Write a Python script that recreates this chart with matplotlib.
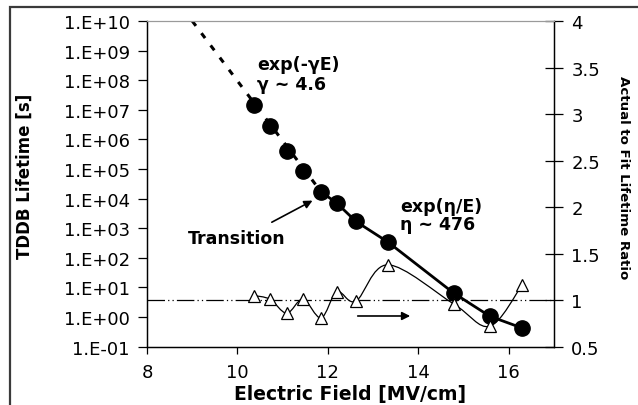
import numpy as np
import matplotlib.pyplot as plt
from matplotlib.path import Path
from matplotlib.patches import PathPatch, Rectangle

plt.rcParams['font.family'] = ['DejaVu Sans']

# measured lifetimes (filled circles)
field = [10.36, 10.72, 11.09, 11.45, 11.85, 12.20, 12.62, 13.33, 14.78, 15.58, 16.29]
lifetime = [1.45e7, 2.8e6, 4.1e5, 8.6e4, 1.7e4, 7.0e3, 1.7e3, 3.4e2, 6.5, 1.07, 0.43]

# actual-to-fit ratio (open triangles)
ratio_field = [10.36, 10.72, 11.09, 11.45, 11.85, 12.20, 12.62, 13.33, 14.78, 15.58, 16.29]
ratio = [1.05, 1.01, 0.86, 1.01, 0.81, 1.09, 0.99, 1.38, 0.96, 0.72, 1.16]

# exp(-gamma E) fit segment, low-field extrapolation
fit_field = [9.0, 11.85]
fit_lifetime = [1e10, 1.7e4]

left_ticks = [1e-1, 1e0, 1e1, 1e2, 1e3, 1e4, 1e5, 1e6, 1e7, 1e8, 1e9, 1e10]
left_labels = ['1.E-01', '1.E+00', '1.E+01', '1.E+02', '1.E+03', '1.E+04',
               '1.E+05', '1.E+06', '1.E+07', '1.E+08', '1.E+09', '1.E+10']
right_ticks = [0.5, 1, 1.5, 2, 2.5, 3, 3.5, 4]
right_labels = ['0.5', '1', '1.5', '2', '2.5', '3', '3.5', '4']
x_ticks = [8, 10, 12, 14, 16]

fig = plt.figure(figsize=(6.38, 4.06), dpi=100)
ax = fig.add_axes([147 / 638, 1 - 347.7 / 406, 407 / 638, 325.7 / 406])
ax2 = ax.twinx()

# outer border (only left and top edges fall inside the image)
fig.add_artist(Rectangle((9.5 / 638, -0.5), 2, 0.5 + (1 - 7.5 / 406),
                         transform=fig.transFigure, fill=False,
                         edgecolor='#3a3a3a', linewidth=1.6))

ax.set_yscale('log')
ax.set_xlim(8, 17)
ax.set_ylim(1e-1, 1e10)
ax.set_yticks(left_ticks)
ax.set_yticklabels(left_labels)
ax.yaxis.set_minor_locator(plt.NullLocator())
ax.set_xticks(x_ticks)
ax.tick_params(axis='y', direction='out', length=6.5, width=0.9, pad=6, labelsize=13)
ax.tick_params(axis='x', direction='out', length=5, width=0.9, pad=7, labelsize=13)

ax2.set_ylim(0.5, 4)
ax2.set_yticks(right_ticks)
ax2.set_yticklabels(right_labels)
ax2.tick_params(axis='y', direction='inout', length=13, width=0.9, pad=6, labelsize=13)

for a in (ax, ax2):
    a.spines['top'].set_color('#9a9a9a')
    a.spines['top'].set_linewidth(0.8)
    for s in ('left', 'right', 'bottom'):
        a.spines[s].set_linewidth(0.9)

# fits
ax.plot(fit_field, fit_lifetime, color='black', linewidth=2.2,
        dashes=(2.0, 3.0), dash_capstyle='butt')
ax.plot(field[4:], lifetime[4:], color='black', linewidth=2.0)
ax.plot(field, lifetime, 'o', color='black', markersize=11)

# reference ratio of 1
ax2.axhline(1, color='black', linewidth=0.9, dashes=(14, 2.5, 1, 2.5, 1, 2.5))

# smoothed ratio curve
pts = np.column_stack([ratio_field, ratio])
verts = [pts[0]]
codes = [Path.MOVETO]
n = len(pts)
for i in range(n - 1):
    p0 = pts[max(i - 1, 0)]
    p1 = pts[i]
    p2 = pts[i + 1]
    p3 = pts[min(i + 2, n - 1)]
    verts += [p1 + (p2 - p0) / 6, p2 - (p3 - p1) / 6, p2]
    codes += [Path.CURVE4] * 3
ax2.add_patch(PathPatch(Path(verts, codes), facecolor='none',
                        edgecolor='black', linewidth=0.9))
ax2.plot(ratio_field, ratio, '^', markersize=8, markerfacecolor='white',
         markeredgecolor='black', markeredgewidth=0.9)

# annotations
bold = dict(fontsize=12.5, fontweight='bold', va='center')
ax.text(10.43, 3.5e8, 'exp(-γE)', ha='left', **bold)
ax.text(10.43, 7.4e7, 'γ ~ 4.6', ha='left', **bold)
ax.text(13.59, 5.6e3, 'exp(η/E)', ha='left', **bold)
ax.text(13.59, 1.4e3, 'η ~ 476', ha='left', **bold)
ax.text(9.99, 4.7e2, 'Transition', ha='center', **bold)

ax.annotate('', xy=(11.66, 8.6e3), xytext=(10.76, 1.6e3),
            arrowprops=dict(arrowstyle='-|>', color='black', lw=1.2,
                            mutation_scale=12, shrinkA=0, shrinkB=0))
ax2.annotate('', xy=(13.82, 0.83), xytext=(12.66, 0.83),
             arrowprops=dict(arrowstyle='-|>', color='black', lw=1.2,
                             mutation_scale=12, shrinkA=0, shrinkB=0))

fig.text(25 / 638, 1 - 176 / 406, 'TDDB Lifetime [s]', rotation=90,
         ha='center', va='center', fontsize=12, fontweight='bold')
fig.text(624 / 638, 1 - 178 / 406, 'Actual to Fit Lifetime Ratio', rotation=270,
         ha='center', va='center', fontsize=9.6, fontweight='bold')
fig.text(350 / 638, 1 - 395 / 406, 'Electric Field [MV/cm]',
         ha='center', va='center', fontsize=13.5, fontweight='bold')

fig.savefig('out.png', dpi=100)
